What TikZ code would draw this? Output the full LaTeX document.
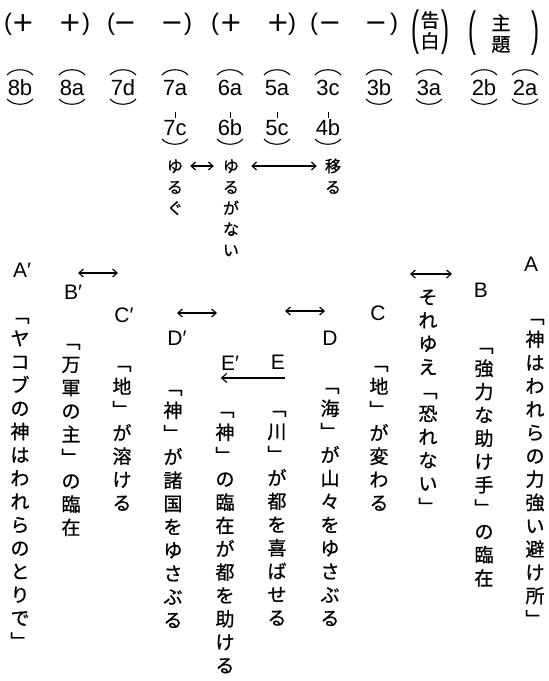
\documentclass[tikz,border=0pt]{standalone}
\usepackage{fontspec}
\usepackage{graphicx}
\setmainfont{Liberation Sans}
\newfontfamily\jpf[FakeBold=0.8]{Noto Sans CJK JP}
\newfontfamily\dvs{DejaVu Sans}
\usetikzlibrary{calc,arrows.meta}
\tikzset{
  vch/.style={font=\jpf\fontsize{19}{19}\selectfont, inner sep=0pt, text height=16.7pt, text depth=2.3pt},
  vchs/.style={font=\jpf\fontsize{16}{16}\selectfont, inner sep=0pt, text height=14.1pt, text depth=1.9pt},
  lab/.style={font=\fontsize{22}{22}\selectfont, inner sep=0pt, text height=16pt, text depth=0pt},
  letter/.style={font=\fontsize{21}{21}\selectfont, inner sep=0pt},
  sign/.style={font=\dvs\fontsize{27}{27}\selectfont, inner sep=0pt, text height=19pt, text depth=0pt},
  par/.style={font=\fontsize{24}{24}\selectfont, inner sep=0pt},
  arcl/.style={line width=1.1pt},
  tickl/.style={line width=1pt, shorten <=17pt, shorten >=1pt},
  dbl/.style={line width=1.2pt, {Straight Barb[length=4.5pt,width=8pt]}-{Straight Barb[length=4.5pt,width=8pt]}},
  sgl/.style={line width=1.2pt, -{Straight Barb[length=5pt,width=9pt]}},
}
\newcommand{\vcol}[6]{\foreach \ch [count=\i from 0] in {#6} {\node[#1] (#2-\i) at (#3, {#4+\i*#5}) {\ch};}}
\newcommand{\toparc}[1]{\draw[arcl] ($(#1)+(-13,-12)$) .. controls ($(#1)+(-7,-19)$) and ($(#1)+(7,-19)$) .. ($(#1)+(13,-12)$);}
\newcommand{\botarc}[1]{\draw[arcl] ($(#1)+(-13,12)$) .. controls ($(#1)+(-7,19)$) and ($(#1)+(7,19)$) .. ($(#1)+(13,12)$);}
\begin{document}
\begin{tikzpicture}[x=1pt,y=-1pt]
\useasboundingbox[fill=white] (0,0) rectangle (549,681);
% top row signs
\node[par] (p1) at (8,24) {(};
\node[sign] (s1) at (23,22) {+};
\node[sign] (s2) at (70,22) {+};
\node[par] (p2) at (86,24) {)};
\node[par] (p3) at (111,24) {(};
\node[sign] (s3) at (125,22) {−};
\node[sign] (s4) at (172,22) {−};
\node[par] (p4) at (188,24) {)};
\node[par] (p5) at (215,24) {(};
\node[sign] (s5) at (231,22) {+};
\node[sign] (s6) at (278,22) {+};
\node[par] (p6) at (292,24) {)};
\node[par] (p7) at (314,24) {(};
\node[sign] (s7) at (330,22) {−};
\node[sign] (s8) at (376,22) {−};
\node[par] (p8) at (394,24) {)};
\node[par] (p9) at (415,32) {\scalebox{1}[2]{(}};
\node[vch] (kok) at (430,20) {告};
\node[vch] (haku) at (430,41) {白};
\node[par] (p10) at (445,32) {\scalebox{1}[2]{)}};
\node[par] (p11) at (472,33) {\scalebox{1}[2]{(}};
\node[vch] (shu) at (501,23) {主};
\node[vch] (dai) at (501,44) {題};
\node[par] (p12) at (535,33) {\scalebox{1}[2]{)}};
% verse labels
\node[lab] (l8b) at (20,87) {8b};
\node[lab] (l8a) at (72,87) {8a};
\node[lab] (l7d) at (123,87) {7d};
\node[lab] (l7a) at (175,87) {7a};
\node[lab] (l7c) at (175,127) {7c};
\node[lab] (l6a) at (230,87) {6a};
\node[lab] (l6b) at (230,127) {6b};
\node[lab] (l5a) at (277,87) {5a};
\node[lab] (l5c) at (277,127) {5c};
\node[lab] (l3c) at (328,87) {3c};
\node[lab] (l4b) at (328,127) {4b};
\node[lab] (l3b) at (379,87) {3b};
\node[lab] (l3a) at (429,87) {3a};
\node[lab] (l2b) at (484,87) {2b};
\node[lab] (l2a) at (525,87) {2a};
\foreach \n in {l8b,l8a,l7d,l7a,l6a,l5a,l3c,l3b,l3a,l2b,l2a} {\toparc{\n}}
\foreach \n in {l8b,l8a,l7d,l7c,l6b,l5c,l4b,l3b,l3a,l2b,l2a} {\botarc{\n}}
\draw[tickl] (l7a.south) -- (l7c.north);
\draw[tickl] (l6a.south) -- (l6b.north);
\draw[tickl] (l5a.south) -- (l5c.north);
\draw[tickl] (l3c.south) -- (l4b.north);
% small vertical words
\vcol{vchs}{yg}{175}{166}{21}{ゆ,る,ぐ}
\vcol{vchs}{ygn}{231}{166}{21}{ゆ,る,が,な,い}
\vcol{vchs}{ut}{333}{166}{21}{移,る}
\draw[dbl, shorten <=7pt, shorten >=9pt] (yg-0.east) -- (ygn-0.west);
\draw[dbl, shorten <=12pt, shorten >=8pt] (ygn-0.east) -- (ut-0.west);
% letters
\node[letter] (A) at (531,264) {A};
\node[letter] (B) at (481,290) {B};
\node[letter] (C) at (378,313) {C};
\node[letter] (D) at (330,338) {D};
\node[letter] (E) at (278,362) {E};
\node[letter] (Ap) at (22,270) {A′};
\node[letter] (Bp) at (73,292) {B′};
\node[letter] (Cp) at (124,315) {C′};
\node[letter] (Dp) at (177,338) {D′};
\node[letter] (Ep) at (230,363) {E′};
\coordinate (ar1a) at (410,274); \coordinate (ar1b) at (452,274);
\coordinate (ar2a) at (285,311); \coordinate (ar2b) at (325,311);
\coordinate (ar3a) at (78,273);  \coordinate (ar3b) at (118,273);
\coordinate (ar4a) at (177,313); \coordinate (ar4b) at (217,313);
\draw[dbl] (ar1a) -- (ar1b);
\draw[dbl] (ar2a) -- (ar2b);
\draw[dbl] (ar3a) -- (ar3b);
\draw[dbl] (ar4a) -- (ar4b);
\draw[sgl] ([yshift=-8.5pt]E.south east) -- ([yshift=-8.5pt]E.south east -| Ep.west);
% vertical columns
\vcol{vch}{cA}{535}{316}{23.3}{﹁,神,は,わ,れ,ら,の,力,強,い,避,け,所,﹂}
\vcol{vch}{cB}{484}{345}{23.3}{﹁,強,力,な,助,け,手,﹂,の,臨,在}
\vcol{vch}{cS}{428}{297}{23.3}{そ,れ,ゆ,え,﹁,恐,れ,な,い,﹂}
\vcol{vch}{cC}{379}{363}{23.3}{﹁,地,﹂,が,変,わ,る}
\vcol{vch}{cD}{330}{385}{23.3}{﹁,海,﹂,が,山,々,を,ゆ,さ,ぶ,る}
\vcol{vch}{cE}{277}{408}{23.3}{﹁,川,﹂,が,都,を,喜,ば,せ,る}
\vcol{vch}{cEp}{225}{409}{23.3}{﹁,神,﹂,の,臨,在,が,都,を,助,け,る}
\vcol{vch}{cDp}{173}{387}{23.3}{﹁,神,﹂,が,諸,国,を,ゆ,さ,ぶ,る}
\vcol{vch}{cCp}{122}{363}{23.3}{﹁,地,﹂,が,溶,け,る}
\vcol{vch}{cBp}{71}{341}{23.3}{﹁,万,軍,の,主,﹂,の,臨,在}
\vcol{vch}{cAp}{20}{315}{23.3}{﹁,ヤ,コ,ブ,の,神,は,わ,れ,ら,の,と,り,で,﹂}
\end{tikzpicture}
\end{document}
